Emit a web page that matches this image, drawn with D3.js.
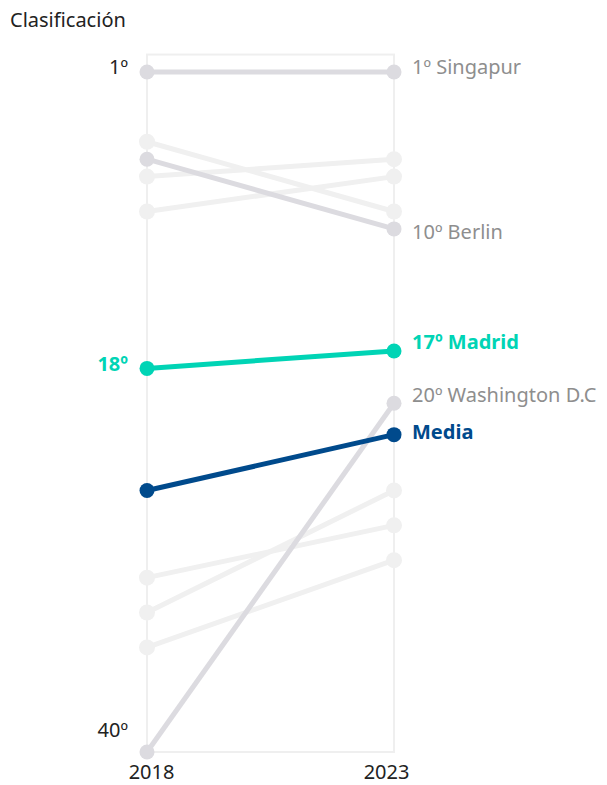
<!DOCTYPE html>
<html>
<head>
<meta charset="utf-8">
<script src="https://cdn.jsdelivr.net/npm/d3@7"></script>
<style>
  body { margin: 0; background: #fff; }
  svg { font-family: "Noto Sans", sans-serif; }
</style>
</head>
<body>
<div id="chart"></div>
<script>
// datos
var years = [2018, 2023];
var cities = ["Otra 1", "Otra 2", "Otra 3", "Otra 4", "Otra 5", "Otra 6",
              "Singapur", "Berlin", "Washington D.C", "Madrid", "Media"];
var rank2018 = [5, 7, 9, 30, 32, 34, 1, 6, 40, 18, 25];
var rank2023 = [9, 6, 7, 27, 25, 29, 1, 10, 20, 17, 21.8];
var groups = ["fondo", "fondo", "fondo", "fondo", "fondo", "fondo",
              "gris", "gris", "gris", "madrid", "media"];
var rightLabels = ["", "", "", "", "", "",
                   "1º Singapur", "10º Berlin", "20º Washington D.C", "17º Madrid", "Media"];
var leftTicks = [1, 18, 40];
var leftTickLabels = ["1º", "18º", "40º"];

var colors = {fondo: "#f0f0f0", gris: "#dcdbe0", madrid: "#00d4b5", media: "#004a8c"};
var textColors = {gris: "#8e8e8e", madrid: "#00d4b5", media: "#004a8c"};

var width = 607, height = 785;
var font = "'Noto Sans', sans-serif";

var svg = d3.select("#chart").append("svg")
    .attr("width", width)
    .attr("height", height);

var x = d3.scalePoint()
    .domain(years)
    .range([147, 394]);

var y = d3.scaleLinear()
    .domain([1, 40])
    .range([72, 752]);

var data = cities.map(function(c, i) {
  return {city: c, group: groups[i], label: rightLabels[i],
          values: [{year: 2018, rank: rank2018[i]}, {year: 2023, rank: rank2023[i]}]};
});

// marco
svg.append("rect")
    .attr("x", x(2018))
    .attr("y", y(0))
    .attr("width", x(2023) - x(2018))
    .attr("height", y(40) - y(0))
    .attr("fill", "none")
    .attr("stroke", "#efefef")
    .attr("stroke-width", 2);

svg.append("text")
    .attr("x", 10)
    .attr("y", 27)
    .attr("font-size", 20)
    .attr("fill", "#222")
    .text("Clasificación");

var line = d3.line()
    .x(function(d) { return x(d.year); })
    .y(function(d) { return y(d.rank); });

var series = svg.selectAll(".serie")
  .data(data)
  .enter().append("g")
    .attr("class", "serie");

series.append("path")
    .attr("d", function(d) { return line(d.values); })
    .attr("fill", "none")
    .attr("stroke", function(d) { return colors[d.group]; })
    .attr("stroke-width", 5);

series.selectAll("circle")
  .data(function(d) { return d.values.map(function(v) { return {year: v.year, rank: v.rank, group: d.group}; }); })
  .enter().append("circle")
    .attr("cx", function(d) { return x(d.year); })
    .attr("cy", function(d) { return y(d.rank); })
    .attr("r", function(d) { return d.group == "fondo" ? 8 : 7.5; })
    .attr("fill", function(d) { return colors[d.group]; });

// etiquetas a la derecha
var nudge = {"Singapur": -5, "Berlin": 3, "Madrid": -9, "Washington D.C": -8, "Media": -3};
series.filter(function(d) { return d.label != ""; })
  .append("text")
    .attr("x", x(2023) + 18)
    .attr("y", function(d) { return y(d.values[1].rank) + nudge[d.city]; })
    .attr("dy", "0.35em")
    .attr("font-size", 20)
    .attr("font-weight", function(d) { return d.group == "gris" ? 400 : 700; })
    .attr("fill", function(d) { return textColors[d.group]; })
    .text(function(d) { return d.label; });

// eje izquierdo
var leftNudge = [-5, -4, -22];
svg.selectAll(".tick-left")
  .data(leftTicks)
  .enter().append("text")
    .attr("class", "tick-left")
    .attr("x", x(2018) - 19)
    .attr("y", function(d, i) { return y(d) + leftNudge[i]; })
    .attr("dy", "0.35em")
    .attr("text-anchor", "end")
    .attr("font-size", 20)
    .attr("font-weight", function(d) { return d == 18 ? 700 : 400; })
    .attr("fill", function(d) { return d == 18 ? colors.madrid : "#222"; })
    .text(function(d, i) { return leftTickLabels[i]; });

// eje x
var xAxis = svg.append("g")
    .attr("transform", "translate(0,779)")
    .call(d3.axisBottom(x).tickSize(0).tickPadding(0));
xAxis.select(".domain").remove();
xAxis.selectAll("text")
    .attr("font-family", font)
    .attr("font-size", 20)
    .attr("fill", "#222")
    .attr("dy", 0)
    .attr("dx", function(d) { return d == 2018 ? 4 : -8; });
</script>
</body>
</html>
